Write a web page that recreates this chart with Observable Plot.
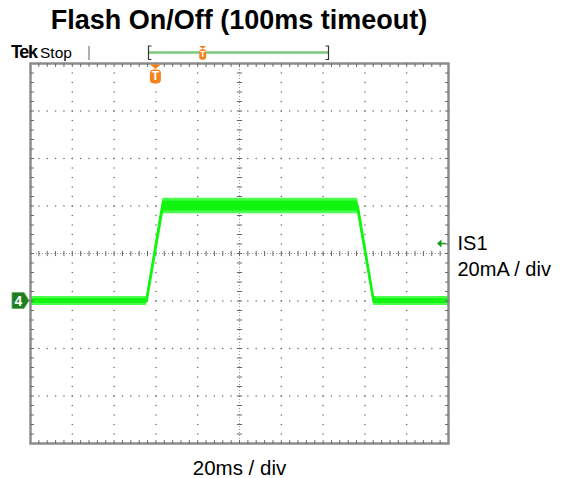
<!DOCTYPE html>
<html><head><meta charset="utf-8">
<script src="https://cdn.jsdelivr.net/npm/d3@7"></script>
<script src="https://cdn.jsdelivr.net/npm/@observablehq/plot@0.6"></script>
<style>
body{margin:0;background:#fff;font-family:"Liberation Sans",Arial,sans-serif;}
#title{height:40px;line-height:40px;width:418px;margin-left:30px;text-align:center;font-weight:bold;font-size:27px;white-space:nowrap;color:#000;}
#chart svg{display:block;overflow:visible}
</style></head><body>
<div id="title">Flash On/Off (100ms timeout)</div>
<div id="chart"></div>
<script>
// ---- data (read from the scope capture) ----
const timeMs       = [0, 55.5, 63.3, 156.5, 164.2, 200];   // ms
const currentMa    = [0, 0, 40, 40, 0, 0];                  // mA (channel 4, IS1)
const noiseOuterMa = [1.9, 1.9, 3.3, 3.3, 1.9, 1.9];        // ± envelope of the noisy trace
const noiseInnerMa = [1.1, 1.1, 2.1, 2.1, 1.1, 1.1];        // dense core of the trace
const xMajorTicks  = [0, 20, 40, 60, 80, 100, 120, 140, 160, 180, 200];
const yMajorTicks  = [-60, -40, -20, 0, 20, 40, 60, 80, 100];
const minorPerDiv  = 5;
const triggerTimeMs = 60;
const triggerLevelMa = 24;
const groundLevelMa = 0;
const channelNumber = "4";
const channelName = "IS1";
const verticalScaleLabel = "20mA / div";
const timebaseLabel = "20ms / div";
const statusLabels = ["Tek", "Stop"];

// ---- derived tables ----
const xMinorTicks = [];
for (let i = 0; i < xMajorTicks.length - 1; i++) {
  const a = xMajorTicks[i], b = xMajorTicks[i + 1];
  for (let k = 0; k < minorPerDiv; k++) xMinorTicks.push(a + (b - a) * k / minorPerDiv);
}
xMinorTicks.push(xMajorTicks[xMajorTicks.length - 1]);
const yMinorTicks = [];
for (let i = 0; i < yMajorTicks.length - 1; i++) {
  const a = yMajorTicks[i], b = yMajorTicks[i + 1];
  for (let k = 0; k < minorPerDiv; k++) yMinorTicks.push(a + (b - a) * k / minorPerDiv);
}
yMinorTicks.push(yMajorTicks[yMajorTicks.length - 1]);

const xMid = xMajorTicks[(xMajorTicks.length - 1) / 2];
const yMid = yMajorTicks[(yMajorTicks.length - 1) / 2];
const xInnerMajor = xMajorTicks.slice(1, -1).filter(v => v !== xMid);
const yInnerMajor = yMajorTicks.slice(1, -1).filter(v => v !== yMid);

const gridDots = [];
for (const x of xInnerMajor) for (const y of yMinorTicks) gridDots.push({x, y});
for (const y of yInnerMajor) for (const x of xMinorTicks) gridDots.push({x, y});

const trace = timeMs.map((t, i) => ({
  t, v: currentMa[i],
  lo: currentMa[i] - noiseOuterMa[i], hi: currentMa[i] + noiseOuterMa[i],
  lo2: currentMa[i] - noiseInnerMa[i], hi2: currentMa[i] + noiseInnerMa[i]
}));

// custom tick symbols
const sym = (fx) => ({draw(ctx, size) { const r = Math.sqrt(size / Math.PI); fx(ctx, r); }});
const hTick = sym((c, r) => { c.moveTo(-r, 0); c.lineTo(r, 0); });
const vTick = sym((c, r) => { c.moveTo(0, -r); c.lineTo(0, r); });
const tickUp = sym((c, r) => { c.moveTo(0, 0); c.lineTo(0, -r); });
const tickDown = sym((c, r) => { c.moveTo(0, 0); c.lineTo(0, r); });
const tickRight = sym((c, r) => { c.moveTo(0, 0); c.lineTo(r, 0); });
const tickLeft = sym((c, r) => { c.moveTo(0, 0); c.lineTo(-r, 0); });

const xLo = xMajorTicks[0], xHi = xMajorTicks[xMajorTicks.length - 1];
const yLo = yMajorTicks[0], yHi = yMajorTicks[yMajorTicks.length - 1];
const edgeInner = xMinorTicks.slice(1, -1);
const edgeInnerY = yMinorTicks.slice(1, -1);

const gridColor = "#6f6f6f";
const traceColor = "#4dff4d";
const traceCore = "#11f511";

const plot = Plot.plot({
  width: 573, height: 438,
  marginLeft: 30, marginRight: 125, marginTop: 23, marginBottom: 35,
  x: {domain: [xLo, xHi], axis: null},
  y: {domain: [yLo, yHi], axis: null},
  style: {fontFamily: "'Liberation Sans', Arial, sans-serif", color: "#000", background: "#fff"},
  marks: [
    Plot.dot(gridDots, {x: "x", y: "y", r: 0.8, fill: gridColor, stroke: null}),
    // centre cross
    Plot.ruleX([xMid], {stroke: "#9a9a9a", strokeDasharray: "1,2"}),
    Plot.ruleY([yMid], {stroke: "#9a9a9a", strokeDasharray: "1,2"}),
    Plot.dot(yMinorTicks.slice(1, -1), {x: () => xMid, y: d => d, symbol: hTick, r: 2.6, stroke: "#666", strokeWidth: 1}),
    Plot.dot(xMinorTicks.slice(1, -1), {x: d => d, y: () => yMid, symbol: vTick, r: 2.6, stroke: "#666", strokeWidth: 1}),
    // trace
    Plot.areaY(trace, {x: "t", y1: "lo", y2: "hi", fill: traceColor}),
    Plot.areaY(trace, {x: "t", y1: "lo2", y2: "hi2", fill: traceCore}),
    Plot.line(trace, {x: "t", y: "v", stroke: traceCore, strokeWidth: 2.6}),
    // frame + edge ticks
    Plot.frame({stroke: "#8c8c8c", strokeWidth: 2.5}),
    Plot.dot(edgeInner, {x: d => d, y: () => yLo, symbol: tickUp, r: 3.4, stroke: "#666", strokeWidth: 1}),
    Plot.dot(edgeInner, {x: d => d, y: () => yHi, symbol: tickDown, r: 3.4, stroke: "#666", strokeWidth: 1}),
    Plot.dot(edgeInnerY, {x: () => xLo, y: d => d, symbol: tickRight, r: 3.4, stroke: "#666", strokeWidth: 1}),
    Plot.dot(edgeInnerY, {x: () => xHi, y: d => d, symbol: tickLeft, r: 3.4, stroke: "#666", strokeWidth: 1}),
    // labels
    Plot.text([channelName + "\n" + verticalScaleLabel], {x: () => xHi, y: () => triggerLevelMa, text: d => d,
      textAnchor: "start", lineAnchor: "top", dx: 9, dy: -12, fontSize: 20, lineHeight: 1.3, fill: "#000"}),
    Plot.text([timebaseLabel], {frameAnchor: "bottom", text: d => d, lineAnchor: "middle", dy: 25, fontSize: 20.5, fill: "#000"})
  ]
});
document.getElementById("chart").appendChild(plot);

// ---- scope decorations placed through the plot's scales ----
const xs = plot.scale("x"), ys = plot.scale("y");
const svg = d3.select(plot);
const X = v => xs.apply(v), Y = v => ys.apply(v);
const frameLeft = X(xLo), frameRight = X(xHi), frameTop = Y(yHi);

// header: Tek Stop
const hdr = svg.append("g").attr("text-anchor", "start");
hdr.append("text").attr("x", 11).attr("y", 18).attr("font-weight", "bold").attr("font-size", 18)
  .attr("letter-spacing", -1.3).attr("font-family", "'Liberation Sans Narrow','Liberation Sans',Arial,sans-serif").text(statusLabels[0]);
hdr.append("text").attr("x", 40).attr("y", 17.5).attr("font-size", 15.5).text(statusLabels[1]);
hdr.append("line").attr("x1", 89).attr("x2", 89).attr("y1", 6).attr("y2", 20).attr("stroke", "#b0b0b0").attr("stroke-width", 2);

// record overview bracket
const rec = d3.scaleLinear().domain([xLo, xHi]).range([149, 328]);
hdr.append("line").attr("x1", rec(xLo)).attr("x2", rec(xHi)).attr("y1", 12.5).attr("y2", 12.5)
  .attr("stroke", "#7cc87c").attr("stroke-width", 2.5);
hdr.append("path").attr("d", `M${rec(xLo)+2.5},6H${rec(xLo)-0.5}V19.5H${rec(xLo)+2.5}`).attr("fill", "none").attr("stroke", "#333").attr("stroke-width", 1.2);
hdr.append("path").attr("d", `M${rec(xHi)-2.5},6H${rec(xHi)+0.5}V19.5H${rec(xHi)-2.5}`).attr("fill", "none").attr("stroke", "#333").attr("stroke-width", 1.2);

const orange = "#f5821f";
function triggerMark(cx, y0, w, h) {
  const g = svg.append("g");
  g.append("path").attr("d", `M${cx - w/2},${y0}H${cx + w/2}L${cx},${y0 + w*0.4}Z`).attr("fill", orange);
  g.append("rect").attr("x", cx - w/2).attr("y", y0 + w*0.45).attr("width", w).attr("height", h).attr("rx", w*0.35).attr("fill", orange);
  g.append("text").attr("x", cx).attr("y", y0 + w*0.45 + h*0.78).attr("text-anchor", "middle")
    .attr("font-size", h*0.85).attr("font-weight", "bold").attr("fill", "#fff").text("T");
}
triggerMark(rec(triggerTimeMs), 6, 7, 10.5);
triggerMark(X(triggerTimeMs), frameTop + 1.5, 11, 14);

// ground marker for channel 4
const gy = Y(groundLevelMa);
const gm = svg.append("g");
gm.append("path").attr("d", `M12,${gy-8}H24L29,${gy}L24,${gy+8}H12Z`).attr("fill", "#1f7f1f").attr("stroke", "#5faa5f").attr("stroke-width", 0.8);
gm.append("text").attr("x", 18.5).attr("y", gy + 5).attr("text-anchor", "middle").attr("font-size", 14)
  .attr("font-weight", "bold").attr("fill", "#fff").text(channelNumber);

// trigger level arrow
const ty = Y(triggerLevelMa);
const ta = svg.append("g");
ta.append("path").attr("d", `M${frameRight-11},${ty}L${frameRight-6.5},${ty-4}V${ty+4}Z`).attr("fill", "#1a9a1a");
ta.append("line").attr("x1", frameRight-7).attr("x2", frameRight-2.5).attr("y1", ty).attr("y2", ty).attr("stroke", "#1a9a1a").attr("stroke-width", 1.6);
</script>
</body></html>
